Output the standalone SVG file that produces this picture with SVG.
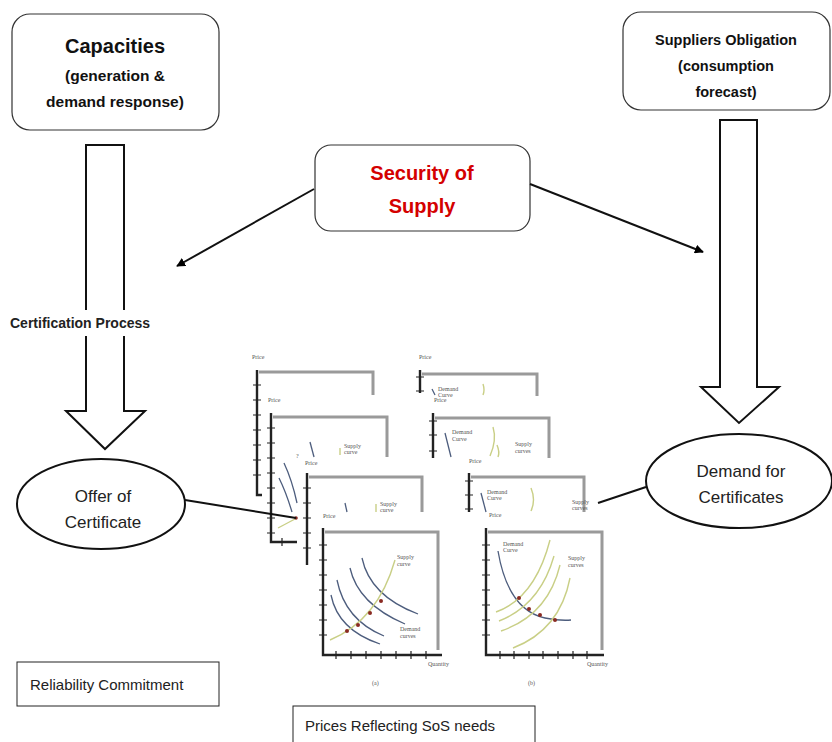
<svg xmlns="http://www.w3.org/2000/svg" width="832" height="742" viewBox="0 0 832 742">
  <defs>
    <marker id="arrow" viewBox="0 0 10 10" refX="9" refY="5" markerWidth="9" markerHeight="9" markerUnits="userSpaceOnUse" orient="auto">
      <path d="M0,0 L10,5 L0,10 z" fill="#000"/>
    </marker>
    <filter id="soft" x="-5%" y="-5%" width="110%" height="110%">
      <feGaussianBlur stdDeviation="0.6"/>
    </filter>
  </defs>
  <style>
    .box { fill: #fff; stroke: #333; stroke-width: 1.2; }
    .hollow { fill: #fff; stroke: #111; stroke-width: 2; stroke-linejoin: miter; }
    .ell { fill: #fff; stroke: #111; stroke-width: 2; }
    .head { font-family: "Liberation Sans", Arial, sans-serif; font-weight: bold; fill: #111; text-anchor: middle; }
    .red { fill: #d40000; }
    .plain { font-family: "Liberation Sans", Arial, sans-serif; fill: #222; }
    .conn { stroke: #111; stroke-width: 2; fill: none; }
    .axis { stroke: #222; stroke-width: 2.4; fill: none; }
    .tick { stroke: #222; stroke-width: 1.2; }
    .frame { stroke: #9a9a9a; stroke-width: 3; fill: none; filter: url(#soft); }
    .dem { stroke: #4d5d7d; stroke-width: 1.3; fill: none; }
    .sup { stroke: #c9cf86; stroke-width: 1.4; fill: none; }
    .dot { fill: #8a2a22; }
    .lbl { font-family: "Liberation Serif", "Times New Roman", serif; font-size: 6px; fill: #555; }
  </style>

  <!-- top boxes -->
  <g id="capacities">
    <rect class="box" x="12" y="14" width="207" height="116" rx="18"/>
    <text class="head" x="115" y="53" font-size="20">Capacities</text>
    <text class="head" x="115" y="81" font-size="15.5">(generation &amp;</text>
    <text class="head" x="115" y="107" font-size="15.5">demand response)</text>
  </g>

  <g id="suppliers">
    <rect class="box" x="623" y="12" width="207" height="98" rx="18"/>
    <text class="head" x="726" y="45" font-size="14.5">Suppliers Obligation</text>
    <text class="head" x="726" y="71" font-size="14.5">(consumption</text>
    <text class="head" x="726" y="97" font-size="14.5">forecast)</text>
  </g>

  <g id="security">
    <rect class="box" x="315" y="145" width="215" height="86" rx="16"/>
    <text class="head red" x="422" y="180" font-size="20">Security of</text>
    <text class="head red" x="422" y="213" font-size="20">Supply</text>
  </g>

  <!-- hollow block arrows -->
  <g id="left-flow">
    <path class="hollow" d="M86,145 L124,145 L124,411 L145,411 L105,449 L66,411 L86,411 Z"/>
    <rect x="60" y="310" width="80" height="26" fill="#fff"/>
    <text class="plain" x="10" y="328" font-size="14" font-weight="bold" fill="#111">Certification Process</text>
  </g>

  <g id="right-flow">
    <path class="hollow" d="M720,120 L757,120 L757,387 L779,387 L739,423 L701,387 L720,387 Z"/>
  </g>

  <!-- ellipses -->
  <g id="offer">
    <ellipse class="ell" cx="101" cy="504" rx="84" ry="45"/>
    <text class="plain" x="103" y="502" font-size="17" text-anchor="middle">Offer of</text>
    <text class="plain" x="103" y="528" font-size="17" text-anchor="middle">Certificate</text>
  </g>

  <g id="demand">
    <ellipse class="ell" cx="739" cy="481" rx="93" ry="47"/>
    <text class="plain" x="741" y="477" font-size="17" text-anchor="middle">Demand for</text>
    <text class="plain" x="741" y="503" font-size="17" text-anchor="middle">Certificates</text>
  </g>

  <!-- bottom label boxes -->
  <g id="reliability">
    <rect x="17" y="662" width="202" height="44" fill="#fff" stroke="#222" stroke-width="1"/>
    <text class="plain" x="30" y="690" font-size="15">Reliability Commitment</text>
  </g>

  <g id="prices">
    <rect x="293" y="706" width="242" height="40" fill="#fff" stroke="#222" stroke-width="1"/>
    <text class="plain" x="305" y="731" font-size="15">Prices Reflecting SoS needs</text>
  </g>

  <!-- stacked supply / demand charts -->
  <g id="charts">
    <!-- left stack -->
    <g id="chart-a1">
      <text class="lbl" x="252" y="359">Price</text>
      <path class="frame" d="M259,372 H373 V395"/>
      <path class="axis" d="M257,370 V495 H262"/>
      <path class="tick" d="M253,385 H261 M253,400 H261 M253,415 H261 M253,430 H261 M253,445 H261 M253,460 H261 M253,475 H261"/>
    </g>
    <g id="chart-a2">
      <text class="lbl" x="268" y="402">Price</text>
      <path class="frame" d="M273,417 H387 V457"/>
      <path class="axis" d="M271,413 V542 H297"/>
      <path class="tick" d="M267,428 H275 M267,443 H275 M267,458 H275 M267,473 H275 M267,488 H275 M267,503 H275 M267,518 H275 M267,533 H275 M282,538 V546"/>
      <path class="dem" d="M310,442 L314,457"/>
      <path class="sup" d="M340,448 V455"/>
      <text class="lbl" x="344" y="448">Supply</text>
      <text class="lbl" x="344" y="454">curve</text>
      <text class="lbl" x="296" y="458">?</text>
      <path class="dem" d="M284,463 Q292,480 297,503"/>
      <path class="dem" d="M279,478 Q286,492 292,512"/>
      <path class="sup" d="M278,528 L295,519"/>
      <circle class="dot" cx="296" cy="518" r="1.8"/>
    </g>
    <g id="chart-a3">
      <text class="lbl" x="305" y="465">Price</text>
      <path class="frame" d="M309,477 H422 V512"/>
      <path class="axis" d="M307,473 V565"/>
      <path class="tick" d="M303,488 H311 M303,503 H311 M303,518 H311 M303,533 H311 M303,548 H311"/>
      <path class="dem" d="M345,503 L347,512"/>
      <path class="sup" d="M376,504 V512"/>
      <text class="lbl" x="380" y="506">Supply</text>
      <text class="lbl" x="380" y="512">curve</text>
    </g>
    <g id="chart-a4">
      <rect x="323" y="532" width="115" height="122" fill="#fff"/>
      <text class="lbl" x="323" y="518">Price</text>
      <path class="frame" d="M325,532 H438 V650"/>
      <path class="axis" d="M323,528 V655 H442"/>
      <path class="tick" d="M319,545 H327 M319,560 H327 M319,575 H327 M319,590 H327 M319,605 H327 M319,620 H327 M319,635 H327 M336,651 V659 M351,651 V659 M366,651 V659 M381,651 V659 M396,651 V659 M411,651 V659 M426,651 V659"/>
      <path class="dem" d="M331,595 Q338,630 380,644"/>
      <path class="dem" d="M337,580 Q345,620 384,636"/>
      <path class="dem" d="M350,568 Q358,604 405,624"/>
      <path class="dem" d="M362,558 Q370,596 418,614"/>
      <path class="sup" d="M330,640 Q378,620 395,560"/>
      <circle class="dot" cx="347" cy="631" r="2"/>
      <circle class="dot" cx="358" cy="625" r="2"/>
      <circle class="dot" cx="370" cy="613" r="2"/>
      <circle class="dot" cx="381" cy="601" r="2"/>
      <text class="lbl" x="397" y="559">Supply</text>
      <text class="lbl" x="397" y="566">curve</text>
      <text class="lbl" x="400" y="631">Demand</text>
      <text class="lbl" x="400" y="638">curves</text>
      <text class="lbl" x="428" y="666">Quantity</text>
      <text class="lbl" x="372" y="685">(a)</text>
    </g>

    <!-- right stack -->
    <g id="chart-b1">
      <text class="lbl" x="419" y="359">Price</text>
      <path class="frame" d="M422,374 H537 V396"/>
      <path class="axis" d="M420,370 V393"/>
      <path class="tick" d="M416,377 H424 M416,391 H424"/>
      <path class="dem" d="M432,389 L435,395"/>
      <text class="lbl" x="438" y="391">Demand</text>
      <text class="lbl" x="438" y="397">Curve</text>
      <text class="lbl" x="434" y="402">Price</text>
      <path class="sup" d="M483,384 Q485,390 483,395"/>
    </g>
    <g id="chart-b2">
      <path class="frame" d="M435,418 H549 V458"/>
      <path class="axis" d="M433,413 V458"/>
      <path class="tick" d="M429,421 H437 M429,435 H437 M429,451 H437"/>
      <path class="dem" d="M445,433 L451,457"/>
      <text class="lbl" x="452" y="434">Demand</text>
      <text class="lbl" x="452" y="441">Curve</text>
      <path class="sup" d="M493,427 Q497,440 490,456"/>
      <path class="sup" d="M497,445 Q500,452 498,457"/>
      <text class="lbl" x="515" y="446">Supply</text>
      <text class="lbl" x="515" y="453">curves</text>
      <text class="lbl" x="469" y="463">Price</text>
    </g>
    <g id="chart-b3">
      <path class="frame" d="M471,477 H584 V512"/>
      <path class="axis" d="M469,473 V512"/>
      <path class="tick" d="M465,481 H473 M465,495 H473 M465,509 H473"/>
      <path class="dem" d="M481,493 L486,512"/>
      <text class="lbl" x="487" y="494">Demand</text>
      <text class="lbl" x="487" y="500">Curve</text>
      <path class="sup" d="M531,488 Q536,500 531,511"/>
      <text class="lbl" x="572" y="504">Supply</text>
      <text class="lbl" x="572" y="510">curves</text>
      <text class="lbl" x="489" y="517">Price</text>
    </g>
    <g id="chart-b4">
      <rect x="486" y="532" width="116" height="122" fill="#fff"/>
      <path class="frame" d="M488,532 H602 V650"/>
      <path class="axis" d="M486,528 V655 H604"/>
      <path class="tick" d="M482,545 H490 M482,560 H490 M482,575 H490 M482,590 H490 M482,605 H490 M482,620 H490 M482,635 H490 M500,651 V659 M514,651 V659 M529,651 V659 M543,651 V659 M558,651 V659 M573,651 V659 M587,651 V659"/>
      <path class="dem" d="M498,551 Q508,610 545,618 Q560,621 571,620"/>
      <path class="sup" d="M496,612 Q535,598 550,540"/>
      <path class="sup" d="M499,621 Q540,605 554,556"/>
      <path class="sup" d="M501,631 Q548,615 560,565"/>
      <path class="sup" d="M513,648 Q560,630 570,578"/>
      <circle class="dot" cx="519" cy="598" r="2"/>
      <circle class="dot" cx="529" cy="609" r="2"/>
      <circle class="dot" cx="540" cy="615" r="2"/>
      <circle class="dot" cx="555" cy="620" r="2"/>
      <text class="lbl" x="503" y="546">Demand</text>
      <text class="lbl" x="503" y="552">Curve</text>
      <text class="lbl" x="568" y="560">Supply</text>
      <text class="lbl" x="568" y="567">curves</text>
      <text class="lbl" x="587" y="666">Quantity</text>
      <text class="lbl" x="528" y="685">(b)</text>
    </g>
  </g>

  <!-- connectors -->
  <g id="connectors">
    <line class="conn" x1="314" y1="189" x2="177" y2="266" marker-end="url(#arrow)"/>
    <line class="conn" x1="530" y1="184" x2="703" y2="252" marker-end="url(#arrow)"/>
    <line class="conn" x1="185" y1="500" x2="296" y2="518"/>
    <line class="conn" x1="646" y1="487" x2="598" y2="503"/>
  </g>
</svg>
